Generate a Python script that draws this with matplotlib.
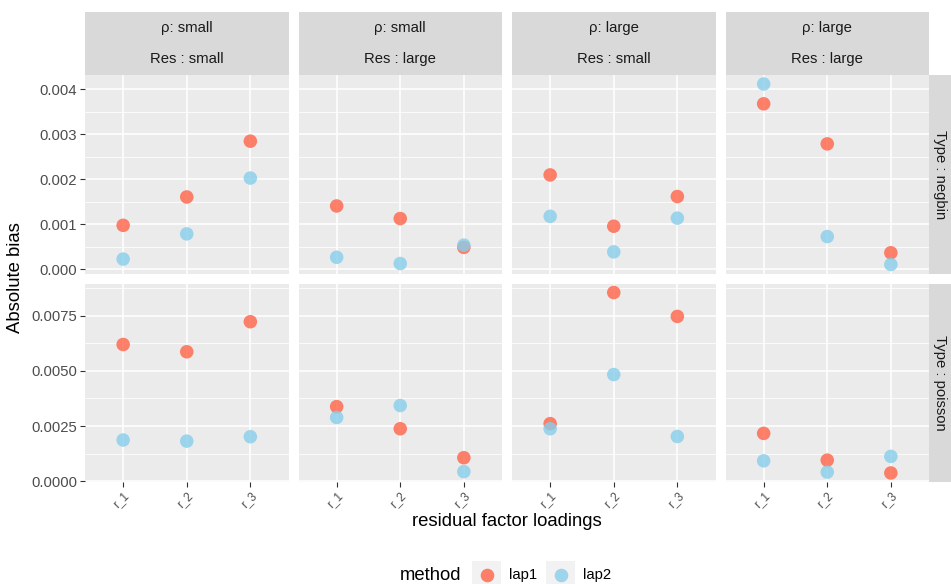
import numpy as np
import matplotlib
matplotlib.use("Agg")
import matplotlib.pyplot as plt
from matplotlib.patches import Rectangle
from matplotlib.lines import Line2D
from matplotlib.ticker import FixedLocator

plt.rcParams['font.family'] = ['Liberation Sans', 'DejaVu Sans']

# ---- data ----
loadings = ["r_1", "r_2", "r_3"]
methods = ["lap1", "lap2"]
rho_levels = ["small", "small", "large", "large"]
res_levels = ["small", "large", "small", "large"]
types = ["negbin", "poisson"]

# absolute bias per (column panel, loading)
negbin_lap1 = [[0.00098, 0.00161, 0.00285],
               [0.00141, 0.00113, 0.00049],
               [0.00210, 0.00096, 0.00162],
               [0.00368, 0.00279, 0.00037]]
negbin_lap2 = [[0.00023, 0.00079, 0.00203],
               [0.00027, 0.00013, 0.00054],
               [0.00118, 0.00039, 0.00114],
               [0.00412, 0.00073, 0.00011]]
poisson_lap1 = [[0.00619, 0.00586, 0.00722],
                [0.00338, 0.00238, 0.00107],
                [0.00261, 0.00854, 0.00746],
                [0.00217, 0.00096, 0.00038]]
poisson_lap2 = [[0.00187, 0.00182, 0.00202],
                [0.00289, 0.00343, 0.00044],
                [0.00238, 0.00483, 0.00203],
                [0.00093, 0.00042, 0.00113]]

row_breaks = [[0.000, 0.001, 0.002, 0.003, 0.004],
              [0.0000, 0.0025, 0.0050, 0.0075]]
row_fmt = ["{:.3f}", "{:.4f}"]

method_colors = {"lap1": "tomato", "lap2": "skyblue"}
data = {("negbin", "lap1"): negbin_lap1, ("negbin", "lap2"): negbin_lap2,
        ("poisson", "lap1"): poisson_lap1, ("poisson", "lap2"): poisson_lap2}

# ---- layout (pixels) ----
W, H = 951, 584
fig = plt.figure(figsize=(W / 100, H / 100), dpi=100)
fig.patch.set_facecolor("white")


def rect(x0, y0, x1, y1):
    return [x0 / W, 1 - y1 / H, (x1 - x0) / W, (y1 - y0) / H]


col_x = [85, 298.5, 512, 725.5]
pw = 203.5
row_y = [(75, 273.5), (283.5, 482)]
strip_top = 11.5
bg = "#EBEBEB"
strip_bg = "#D9D9D9"
tick_col = "#4D4D4D"
fs_tick = 10.7
fs_strip = 10.7
fs_title = 13.3

for r, t in enumerate(types):
    vals = np.concatenate([np.ravel(data[(t, m)]) for m in methods])
    lo, hi = vals.min(), vals.max()
    pad = 0.05 * (hi - lo)
    ylim = (lo - pad, hi + pad)
    br = row_breaks[r]
    minor = [(a + b) / 2 for a, b in zip(br[:-1], br[1:])]
    minor = [br[0] - (br[1] - br[0]) / 2] + minor + [br[-1] + (br[1] - br[0]) / 2]
    minor = [m for m in minor if ylim[0] <= m <= ylim[1]]
    for c in range(4):
        y0, y1 = row_y[r]
        ax = fig.add_axes(rect(col_x[c], y0, col_x[c] + pw, y1))
        ax.set_facecolor(bg)
        for s in ax.spines.values():
            s.set_visible(False)
        ax.set_xlim(0.4, 3.6)
        ax.set_ylim(*ylim)
        ax.yaxis.set_major_locator(FixedLocator(br))
        ax.yaxis.set_minor_locator(FixedLocator(minor))
        ax.set_xticks(range(1, 4))
        ax.grid(True, which="major", color="white", lw=1.1)
        ax.grid(True, which="minor", axis="y", color="white", lw=0.55)
        ax.set_axisbelow(True)
        ax.tick_params(which="minor", length=0)
        ax.tick_params(which="major", length=3.5, width=0.8, color="#333333",
                       labelcolor=tick_col, labelsize=fs_tick, pad=2)
        if c == 0:
            ax.set_yticklabels([row_fmt[r].format(v) for v in br])
        else:
            ax.tick_params(axis="y", length=0, labelleft=False)
        if r == 1:
            ax.set_xticklabels(loadings, rotation=45, ha="right", va="top",
                               rotation_mode="anchor", fontsize=8.5)
        else:
            ax.tick_params(axis="x", length=0, labelbottom=False)
        x = np.arange(1, 4)
        for m in methods:
            ax.scatter(x, data[(t, m)][c], s=95, color=method_colors[m],
                       alpha=0.8, edgecolors="none", zorder=3, clip_on=False)

        # top strips
        if r == 0:
            sax = fig.add_axes(rect(col_x[c], strip_top, col_x[c] + pw, y0))
            sax.set_facecolor(strip_bg)
            sax.set_xticks([]); sax.set_yticks([])
            for s in sax.spines.values():
                s.set_visible(False)
            sax.text(0.5, 0.745, "\u03c1: " + rho_levels[c], ha="center",
                     va="center", fontsize=fs_strip, color="#1A1A1A",
                     transform=sax.transAxes)
            sax.text(0.5, 0.245, "Res : " + res_levels[c], ha="center",
                     va="center", fontsize=fs_strip, color="#1A1A1A",
                     transform=sax.transAxes)
        if c == 3:
            rax = fig.add_axes(rect(928.5, y0, 951, y1))
            rax.set_facecolor(strip_bg)
            rax.set_xticks([]); rax.set_yticks([])
            for s in rax.spines.values():
                s.set_visible(False)
            rax.text(0.5, 0.5, "Type : " + t, rotation=-90, ha="center",
                     va="center", fontsize=fs_strip, color="#1A1A1A",
                     transform=rax.transAxes)

# axis titles
fig.text(16 / W, 1 - 278 / H, "Absolute bias", rotation=90, ha="center",
         va="center", fontsize=fs_title)
fig.text(506.5 / W, 1 - 522 / H, "residual factor loadings", ha="center",
         va="center", fontsize=fs_title)

# legend
fig.text(400 / W, 1 - 575 / H, "method", ha="left", va="center",
         fontsize=fs_title)
lax = fig.add_axes(rect(0, 0, W, H), facecolor="none")
lax.set_xlim(0, W); lax.set_ylim(H, 0)
lax.axis("off")
key_x = [472, 546]
lab_x = [509, 583]
for kx, lx, m in zip(key_x, lab_x, methods):
    lax.add_patch(Rectangle((kx, 560.5), 29, 29, facecolor="#F2F2F2",
                            edgecolor="none"))
    lax.add_line(Line2D([kx + 14.5], [575], marker="o", markersize=9.8,
                        color=method_colors[m], alpha=0.8, lw=0,
                        markeredgewidth=0))
    lax.text(lx, 575, m, ha="left", va="center", fontsize=fs_tick)

fig.savefig("out.png", dpi=100, facecolor="white")
